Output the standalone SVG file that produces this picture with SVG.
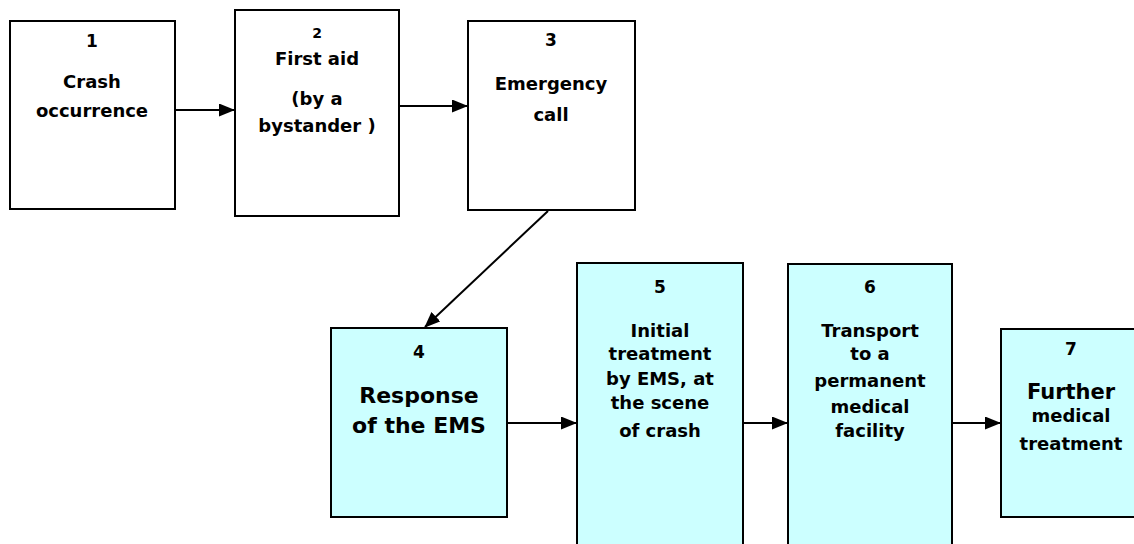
<svg xmlns="http://www.w3.org/2000/svg" width="1134" height="544" viewBox="0 0 1134 544">
<style>
.box{stroke:#000;stroke-width:2}
.w{fill:#fff}
.c{fill:#ccffff}
text{font-family:"DejaVu Sans","Liberation Sans",sans-serif;font-weight:bold;fill:#000;text-anchor:middle}
.t{font-size:18px}
.n{font-size:17px}
.big{font-size:22px}
.conn{stroke:#000;stroke-width:2;fill:none}
</style>
<defs>
<marker id="ah" markerUnits="userSpaceOnUse" markerWidth="16" markerHeight="13" refX="15" refY="6.5" orient="auto">
<path d="M0,0 L16,6.5 L0,13 Z" fill="#000"/>
</marker>
</defs>
<rect width="1134" height="544" fill="#fff"/>
<g id="connectors">
<line class="conn" x1="175" y1="110" x2="234" y2="110" marker-end="url(#ah)"/>
<line class="conn" x1="399" y1="106" x2="467" y2="106" marker-end="url(#ah)"/>
<line class="conn" x1="548" y1="211" x2="425" y2="327" marker-end="url(#ah)"/>
<line class="conn" x1="507" y1="423" x2="576" y2="423" marker-end="url(#ah)"/>
<line class="conn" x1="743" y1="423" x2="787" y2="423" marker-end="url(#ah)"/>
<line class="conn" x1="952" y1="423" x2="1000" y2="423" marker-end="url(#ah)"/>
</g>
<g id="node1">
<rect class="box w" x="10" y="21" width="165" height="188"/>
<text class="n" x="92" y="47">1</text>
<text class="t" x="92" y="88">Crash</text>
<text class="t" x="92" y="117">occurrence</text>
</g>
<g id="node2">
<rect class="box w" x="235" y="10" width="164" height="206"/>
<text x="317" y="38" style="font-size:14px">2</text>
<text class="t" x="317" y="65">First aid</text>
<text class="t" x="317" y="105">(by a</text>
<text class="t" x="317" y="132">bystander )</text>
</g>
<g id="node3">
<rect class="box w" x="468" y="21" width="167" height="189"/>
<text class="n" x="551" y="46">3</text>
<text class="t" x="551" y="90">Emergency</text>
<text class="t" x="551" y="121">call</text>
</g>
<g id="node4">
<rect class="box c" x="331" y="328" width="176" height="189"/>
<text class="n" x="419" y="358">4</text>
<text class="big" x="419" y="403">Response</text>
<text class="big" x="419" y="433">of the EMS</text>
</g>
<g id="node5">
<rect class="box c" x="577" y="263" width="166" height="300"/>
<text class="n" x="660" y="293">5</text>
<text class="t" x="660" y="337">Initial</text>
<text class="t" x="660" y="360">treatment</text>
<text class="t" x="660" y="385">by EMS, at</text>
<text class="t" x="660" y="409">the scene</text>
<text class="t" x="660" y="437">of crash</text>
</g>
<g id="node6">
<rect class="box c" x="788" y="264" width="164" height="300"/>
<text class="n" x="870" y="293">6</text>
<text class="t" x="870" y="337">Transport</text>
<text class="t" x="870" y="360">to a</text>
<text class="t" x="870" y="387">permanent</text>
<text class="t" x="870" y="413">medical</text>
<text class="t" x="870" y="437">facility</text>
</g>
<g id="node7">
<rect class="box c" x="1001" y="329" width="150" height="188"/>
<text class="n" x="1071" y="355">7</text>
<text x="1071" y="399" style="font-size:21px">Further</text>
<text class="t" x="1071" y="422">medical</text>
<text class="t" x="1071" y="450">treatment</text>
</g>
</svg>
